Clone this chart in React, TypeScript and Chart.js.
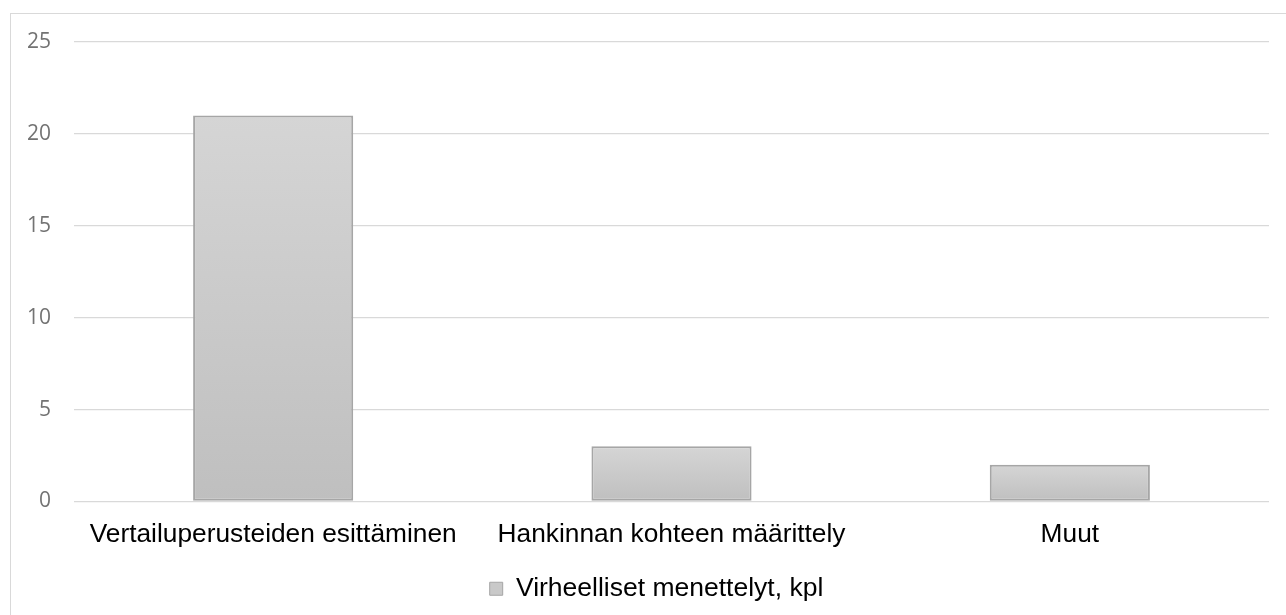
import React, { useEffect, useRef } from "react";
import { Chart, registerables } from "chart.js";

Chart.register(...registerables);

const categories = [
  "Vertailuperusteiden esittäminen",
  "Hankinnan kohteen määrittely",
  "Muut",
];
const seriesLabel = "Virheelliset menettelyt, kpl";
const seriesValues = [21, 3, 2];
const yTicks = [0, 5, 10, 15, 20, 25];

const legendShift = {
  id: "legendShift",
  afterLayout(chart: any) {
    const lg = chart.legend;
    if (lg) {
      lg.left += 22;
      lg.right += 22;
    }
  },
};

export default function App() {
  const ref = useRef<HTMLCanvasElement | null>(null);

  useEffect(() => {
    document.body.style.margin = "0";
    const canvas = ref.current;
    if (!canvas) return;
    const chart = new Chart(canvas, {
      type: "bar",
      data: {
        labels: categories,
        datasets: [
          {
            label: seriesLabel,
            data: seriesValues,
            backgroundColor: (ctx: any) => {
              const c = ctx.chart;
              const y = c.scales?.y;
              if (!c.chartArea || !y || ctx.raw == null) return "#c9c9c9";
              const top = y.getPixelForValue(ctx.raw);
              const bot = y.getPixelForValue(0);
              if (!isFinite(top) || !isFinite(bot) || top === bot) return "#c9c9c9";
              const g = c.ctx.createLinearGradient(0, top, 0, bot);
              g.addColorStop(0, "#d5d5d5");
              g.addColorStop(1, "#bfbfbf");
              return g;
            },
            borderColor: "#a6a6a6",
            borderWidth: 2,
            borderSkipped: false,
            categoryPercentage: 1,
            barPercentage: 0.402,
          },
        ],
      },
      plugins: [legendShift],
      options: {
        responsive: false,
        animation: false,
        layout: { padding: { left: 0, right: 17, top: 42, bottom: 3 } },
        scales: {
          x: {
            grid: { display: false },
            border: { display: false },
            ticks: {
              color: "#000000",
              font: { family: "'Liberation Sans', Arial, sans-serif", size: 26.3 },
              padding: 9,
              maxRotation: 0,
            },
            afterFit: (s: any) => {
              s.height = 64;
            },
          },
          y: {
            min: 0,
            max: 25,
            afterBuildTicks: (s: any) => {
              s.ticks = yTicks.map((v) => ({ value: v }));
            },
            grid: { color: "#d9d9d9", lineWidth: 1.3, drawTicks: false },
            border: { display: false },
            ticks: {
              color: "#737373",
              font: { family: "'Open Sans', sans-serif", size: 21 },
              padding: 23,
            },
            afterFit: (s: any) => {
              s.width = 74;
            },
          },
        },
        plugins: {
          tooltip: { enabled: false },
          legend: {
            position: "bottom",
            labels: {
              color: "#000000",
              font: { family: "'Liberation Sans', Arial, sans-serif", size: 26.5 },
              boxWidth: 13,
              boxHeight: 13,
              padding: 10,
              generateLabels: () => [
                {
                  text: seriesLabel,
                  fillStyle: "#c9c9c9",
                  strokeStyle: "#a6a6a6",
                  lineWidth: 1,
                  hidden: false,
                  datasetIndex: 0,
                },
              ],
            },
          },
        },
      },
    });
    return () => chart.destroy();
  }, []);

  return (
    <div style={{ position: "relative", width: 1286, height: 615, overflow: "hidden", background: "#fff" }}>
      <div
        style={{
          position: "absolute",
          left: 10,
          top: 13,
          width: 1400,
          height: 800,
          border: "1px solid #d9d9d9",
          boxSizing: "border-box",
        }}
      />
      <canvas ref={ref} width={1286} height={615} style={{ position: "absolute", left: 0, top: 0 }} />
    </div>
  );
}
